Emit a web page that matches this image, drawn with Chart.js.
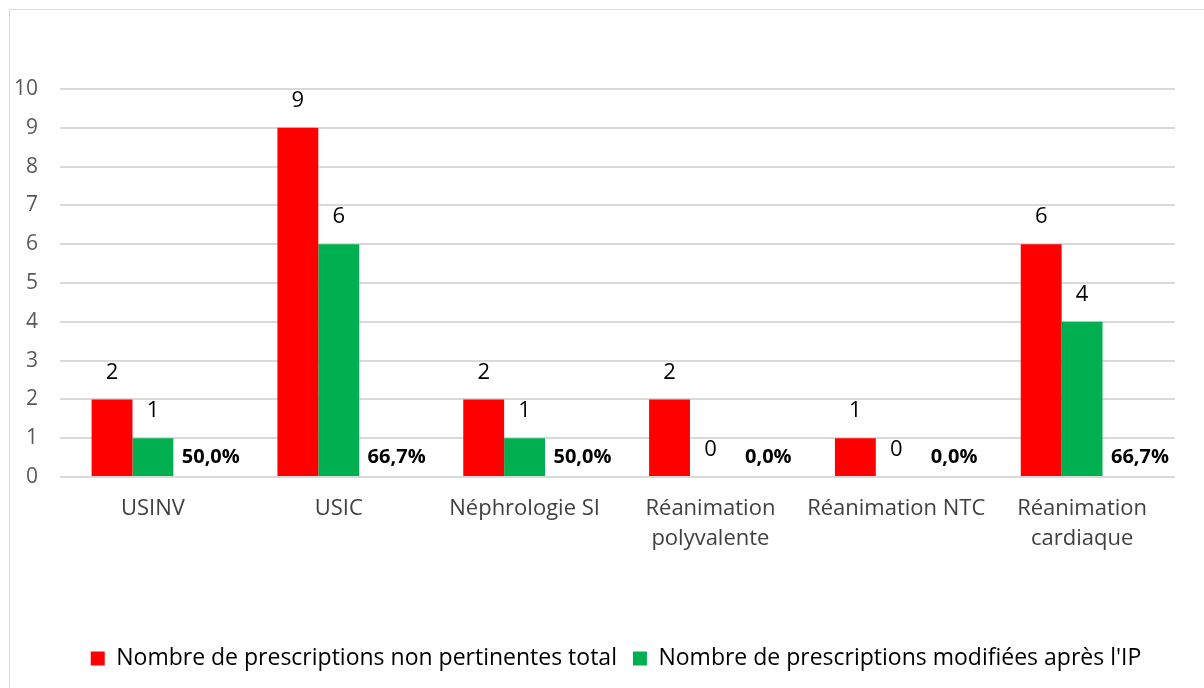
<!DOCTYPE html>
<html>
<head>
<meta charset="utf-8">
<script src="https://cdn.jsdelivr.net/npm/chart.js@4"></script>
<style>
  body { margin: 0; background: #fff; }
  #frame { position: absolute; left: 9px; top: 9px; width: 1200px; height: 690px; border: 1px solid #d9d9d9; }
  #wrap { position: absolute; left: 0; top: 0; width: 1204px; height: 688px; }
</style>
</head>
<body>
<div id="frame"></div>
<div id="wrap"><canvas id="chart"></canvas></div>
<script>
const categories = ['USINV', 'USIC', 'Néphrologie SI', ['Réanimation', 'polyvalente'], 'Réanimation NTC', ['Réanimation', 'cardiaque']];
const totalNonPertinent = [2, 9, 2, 2, 1, 6];
const modifiedAfterIP = [1, 6, 1, 0, 0, 4];
const percentModified = ['50,0%', '66,7%', '50,0%', '0,0%', '0,0%', '66,7%'];
const yTicks = [0, 1, 2, 3, 4, 5, 6, 7, 8, 9, 10];

const FONT = '"Open Sans", "Noto Sans", sans-serif';

const labelPlugin = {
  id: 'valueLabels',
  afterDatasetsDraw(chart) {
    const ctx = chart.ctx;
    const base = chart.scales.y.getPixelForValue(0);
    ctx.save();
    ctx.textAlign = 'center';
    ctx.textBaseline = 'middle';
    ctx.fillStyle = '#000';
    [0, 1].forEach(di => {
      const meta = chart.getDatasetMeta(di);
      ctx.font = '22px ' + FONT;
      meta.data.forEach((bar, i) => {
        const v = chart.data.datasets[di].data[i];
        ctx.fillText(String(v), bar.x, bar.y - 27);
      });
    });
    const meta = chart.getDatasetMeta(2);
    ctx.font = 'bold 20px ' + FONT;
    meta.data.forEach((bar, i) => {
      ctx.fillText(percentModified[i], bar.x + 17, base - 20);
    });
    ctx.restore();
  }
};

const chart = new Chart(document.getElementById('chart'), {
  type: 'bar',
  data: {
    labels: categories,
    datasets: [
      { label: 'Nombre de prescriptions non pertinentes total', data: totalNonPertinent, backgroundColor: '#ff0000' },
      { label: "Nombre de prescriptions modifiées après l'IP", data: modifiedAfterIP, backgroundColor: '#00b050' },
      { label: 'pct', data: percentModified.map(() => 0), backgroundColor: 'rgba(0,0,0,0)' }
    ]
  },
  options: {
    responsive: true,
    maintainAspectRatio: false,
    animation: false,
    datasets: { bar: { categoryPercentage: 0.66, barPercentage: 1.0 } },
    layout: { padding: { top: 89, left: 13, right: 29, bottom: 8 } },
    plugins: {
      tooltip: { enabled: false },
      legend: {
        position: 'bottom',
        labels: {
          filter: item => item.datasetIndex < 2,
          boxWidth: 14, boxHeight: 14, padding: 16,
          color: '#000',
          font: { family: FONT, size: 23 }
        }
      }
    },
    scales: {
      x: {
        grid: { display: false, drawTicks: false },
        border: { display: false },
        ticks: { color: '#404040', font: { family: FONT, size: 22, lineHeight: 1.4 }, padding: 16, maxRotation: 0 },
        afterFit(scale) { scale.height = 154; }
      },
      y: {
        min: 0, max: 10,
        afterBuildTicks(scale) { scale.ticks = yTicks.map(v => ({ value: v })); },
        grid: { color: '#d9d9d9', lineWidth: 2, drawTicks: false },
        border: { display: false },
        ticks: { color: '#595959', font: { family: FONT, size: 21 }, padding: 22 },
        afterFit(scale) { scale.width = 47; }
      }
    }
  },
  plugins: [labelPlugin]
});

// the legend in the original sits a little right of centre
const legendDraw = chart.legend.draw.bind(chart.legend);
chart.legend.draw = function () {
  chart.ctx.save();
  chart.ctx.translate(22, 0);
  legendDraw();
  chart.ctx.restore();
};
chart.draw();
</script>
</body>
</html>
